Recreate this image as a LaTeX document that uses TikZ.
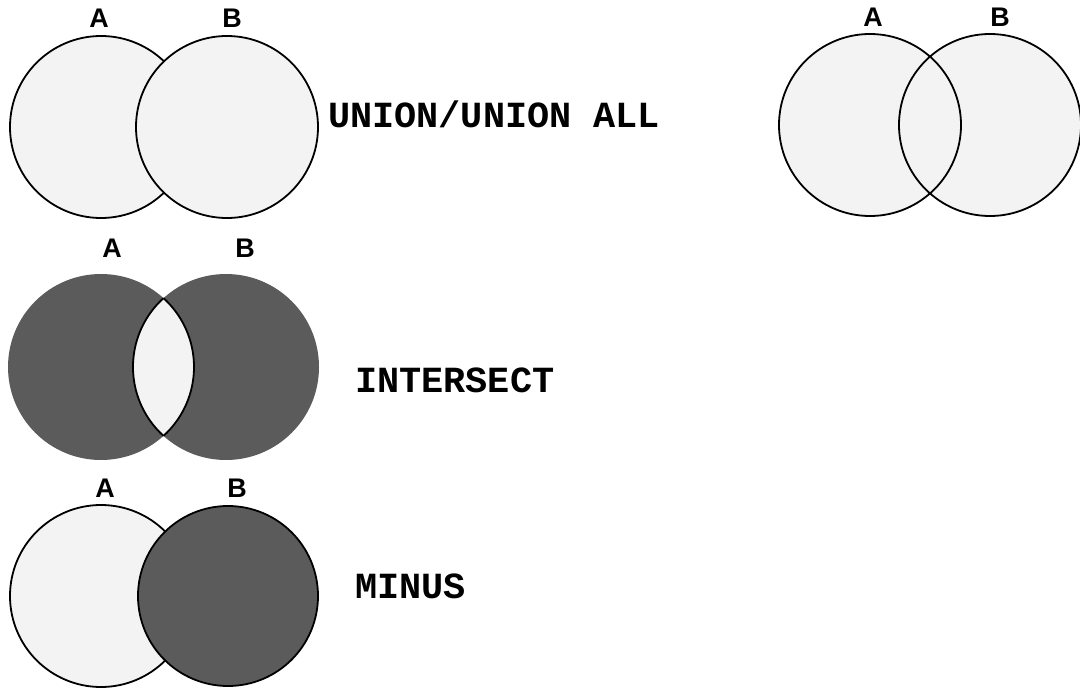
\documentclass[tikz,border=0pt]{standalone}
\usepackage{fontspec}
\setmainfont{Liberation Sans}
\newfontfamily\sqlfont{Liberation Mono}
\definecolor{lite}{HTML}{F3F3F3}
\definecolor{dark}{HTML}{5B5B5B}

\begin{document}
\begin{tikzpicture}[x=1bp, y=-1bp, set/.style={draw, line width=1.8bp, fill=lite}, lbl/.style={anchor=base, inner sep=0pt, font=\fontsize{27}{27}\selectfont\bfseries}, op/.style={anchor=base west, inner sep=0pt, font=\sqlfont\fontsize{37}{37}\selectfont\bfseries}]
\useasboundingbox (0,0) rectangle (1080,688);
\foreach \n/\x/\y in {uA/101/127, uB/227/127, vA/870/125, vB/990/125, iA/101/367, iB/226/367, mA/101/596, mB/228/596}{\coordinate (\n) at (\x,\y);}
% union
\draw[set] (uA) circle (91);
\draw[set] (uB) circle (91);
% union, both outlines
\fill[lite] (vA) circle (91) (vB) circle (91);
\draw[set, fill=none] (vA) circle (91) (vB) circle (91);
% intersect
\fill[dark] (iA) circle (93) (iB) circle (93);
\begin{scope}
\clip (iA) circle (93);
\draw[set] (iB) circle (93);
\end{scope}
\begin{scope}
\clip (iB) circle (93);
\draw[set, fill=none] (iA) circle (93);
\end{scope}
% minus
\draw[set] (mA) circle (91);
\draw[set, fill=dark] (mB) circle (90);
\foreach \n/\x/\y/\t in {luA/99/28/A, luB/232/28/B, lvA/873/27/A, lvB/1000/27/B, liA/112/257/A, liB/245/257/B, lmA/105/497/A, lmB/237/497/B}{\node[lbl] (\n) at (\x,\y) {\t};}
\node[op] (union) at (328,128) {UNION/UNION ALL};
\node[op] (inter) at (355,392) {INTERSECT};
\node[op] (minus) at (355,598) {MINUS};
\end{tikzpicture}
\end{document}
